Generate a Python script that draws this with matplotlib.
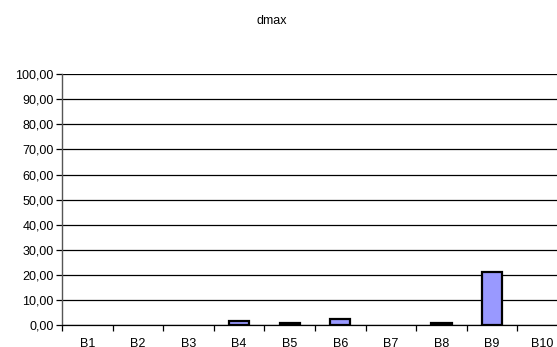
import numpy as np
import matplotlib.pyplot as plt
from matplotlib.ticker import FuncFormatter, FixedLocator

plt.rcParams['font.family'] = ['Liberation Sans', 'DejaVu Sans']

categories = ["B1", "B2", "B3", "B4", "B5", "B6", "B7", "B8", "B9", "B10"]
dmax = [0.0, 0.0, 0.0, 1.6, 0.8, 2.7, 0.0, 0.8, 21.3, 0.0]

fig = plt.figure(figsize=(5.57, 3.47), dpi=100)
ax = fig.add_axes([0.1113, 0.062, 0.9084, 0.725])

x = np.arange(len(categories))
vals = np.array(dmax)
shown = vals > 0
ax.bar(x[shown], vals[shown], width=0.4, color="#9999ff",
       edgecolor="black", linewidth=1.6, zorder=3)

ax.set_xlim(-0.5, len(categories) - 0.5)
ax.set_ylim(0, 100)
ax.set_yticks(np.arange(0, 101, 10))
ax.yaxis.set_major_formatter(FuncFormatter(lambda v, p: f"{v:.2f}".replace(".", ",")))
ax.grid(axis="y", color="black", linewidth=0.9, zorder=0)

# ticks between categories, labels centred under each bar
ax.xaxis.set_major_locator(FixedLocator(x - 0.5))
ax.xaxis.set_minor_locator(FixedLocator(x))
ax.set_xticklabels([])
ax.set_xticklabels(categories, minor=True)
ax.tick_params(axis="x", which="major", length=4, width=0.9, direction="out", colors="black")
ax.tick_params(axis="x", which="minor", length=0, pad=9, labelsize=9)
ax.tick_params(axis="y", length=4, width=0.9, direction="out", labelsize=9, pad=2)

for s in ["top", "right"]:
    ax.spines[s].set_visible(False)
ax.spines["left"].set_color("#555555")
ax.spines["left"].set_linewidth(1.0)
ax.spines["bottom"].set_linewidth(0.9)

fig.text(0.487, 0.94, "dmax", ha="center", va="center", fontsize=9)

fig.savefig("out.png", dpi=100)
